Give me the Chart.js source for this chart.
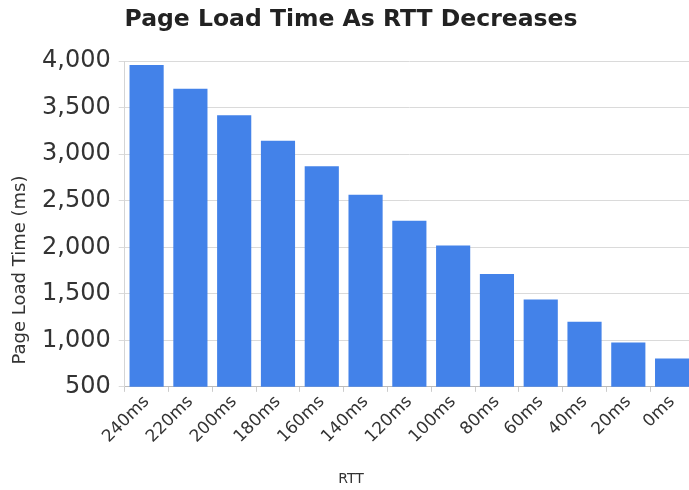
<!DOCTYPE html>
<html>
<head>
<meta charset="utf-8">
<script src="https://cdn.jsdelivr.net/npm/chart.js@4/dist/chart.umd.min.js"></script>
<style>
html,body{margin:0;padding:0;background:#fff;overflow:hidden;}
#wrap{width:695px;height:490px;}
</style>
</head>
<body>
<div id="wrap"><canvas id="c"></canvas></div>
<script>
const categories = ["240ms","220ms","200ms","180ms","160ms","140ms","120ms","100ms","80ms","60ms","40ms","20ms","0ms"];
const loadTimes = [3960, 3705, 3418, 3145, 2870, 2565, 2285, 2020, 1712, 1440, 1200, 977, 805];
const yTicks = [500, 1000, 1500, 2000, 2500, 3000, 3500, 4000];
const yTitle = 'Page Load Time (ms)';

const yTitlePlugin = {
  id: 'yTitle',
  afterDraw(chart) {
    const ctx = chart.ctx;
    ctx.save();
    ctx.translate(20, chart.height * 0.551);
    ctx.rotate(-Math.PI / 2);
    ctx.font = '18px "DejaVu Sans"';
    ctx.fillStyle = '#333';
    ctx.textAlign = 'center';
    ctx.textBaseline = 'middle';
    ctx.fillText(yTitle, 0, 0);
    ctx.restore();
  }
};

new Chart(document.getElementById('c'), {
  type: 'bar',
  data: {
    labels: categories,
    datasets: [{
      label: 'Page Load Time',
      data: loadTimes,
      backgroundColor: '#4382E9',
      borderWidth: 0,
      barPercentage: 0.78,
      categoryPercentage: 1.0
    }]
  },
  plugins: [yTitlePlugin],
  options: {
    responsive: true,
    maintainAspectRatio: false,
    animation: false,
    layout: { padding: { top: 0, left: 8, right: 1, bottom: 2 } },
    plugins: {
      legend: { display: false },
      tooltip: { enabled: false },
      title: {
        display: true,
        text: 'Page Load Time As RTT Decreases',
        color: '#222',
        font: { family: 'DejaVu Sans', size: 23.5, weight: 'bold' },
        padding: { top: 6, bottom: 27 }
      },
      subtitle: {
        display: true,
        position: 'bottom',
        text: 'RTT',
        color: '#333',
        font: { family: 'DejaVu Sans', size: 14 },
        padding: { top: 24, bottom: 0 }
      }
    },
    scales: {
      x: {
        grid: { display: true, drawOnChartArea: false, tickLength: 5, color: '#ccc' },
        border: { color: '#bbb' },
        ticks: {
          color: '#333',
          font: { family: 'DejaVu Sans', size: 17 },
          minRotation: 45, maxRotation: 45,
          padding: 0
        }
      },
      y: {
        min: 500, max: 4000,
        afterBuildTicks: (s) => { s.ticks = yTicks.map(v => ({ value: v })); },
        afterFit: (s) => { s.width += 26; },
        grid: { color: '#dadada', tickLength: 6 },
        border: { color: '#d5d5d5' },
        ticks: {
          color: '#333',
          font: { family: 'DejaVu Sans', size: 24 },
          padding: 8,
          callback: (v) => Number(v).toLocaleString('en-US')
        }
      }
    }
  }
});
</script>
</body>
</html>
